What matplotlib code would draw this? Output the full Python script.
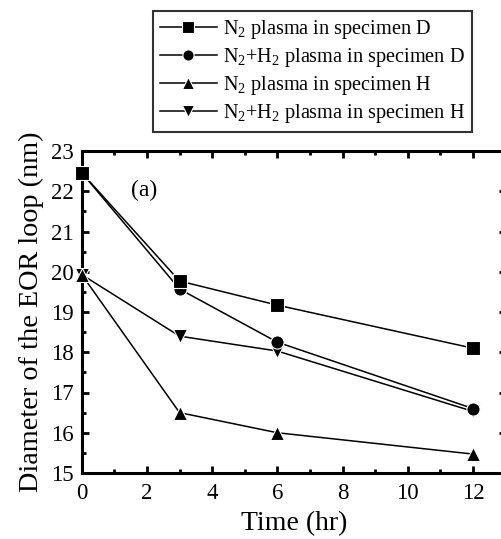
import numpy as np
import matplotlib
matplotlib.use("Agg")
import matplotlib.pyplot as plt
from matplotlib.ticker import MultipleLocator

plt.rcParams['font.family'] = ['Liberation Serif', 'DejaVu Serif']
plt.rcParams['mathtext.fontset'] = 'custom'
plt.rcParams['mathtext.rm'] = 'Liberation Serif'
plt.rcParams['mathtext.it'] = 'Liberation Serif'

# data
time_hr = [0, 3, 6, 12]
n2_d = [22.46, 19.77, 19.17, 18.10]
n2h2_d = [22.46, 19.57, 18.25, 16.60]
n2_h = [19.93, 16.50, 16.00, 15.47]
n2h2_h = [19.93, 18.40, 18.03, 16.53]

labels = [
    r"N$_2$ plasma in specimen D",
    r"N$_2$+H$_2$ plasma in specimen D",
    r"N$_2$ plasma in specimen H",
    r"N$_2$+H$_2$ plasma in specimen H",
]
markers = ["s", "o", "^", "v"]

fig = plt.figure(figsize=(5.01, 5.39), dpi=100)
W, H = 501, 539
ax = fig.add_axes([81.7 / W, (H - 473) / H, 424 / W, 322 / H])

handles = []
series = [n2_d, n2h2_d, n2_h, n2h2_h]
# draw in reverse so the D series sit on top where points overlap
for i in [3, 2, 1, 0]:
    h, = ax.plot(time_hr, series[i], color="black", lw=1.1, marker=markers[i], markersize=9.5,
                 markerfacecolor="black", markeredgecolor="white", markeredgewidth=0.8,
                 label=labels[i], clip_on=False, zorder=3)
    handles.append(h)
handles = handles[::-1]

ax.set_xlim(0, 13)
ax.set_ylim(15, 23)
ax.xaxis.set_major_locator(MultipleLocator(2))
ax.xaxis.set_minor_locator(MultipleLocator(1))
ax.yaxis.set_major_locator(MultipleLocator(1))
ax.yaxis.set_minor_locator(MultipleLocator(0.5))
ax.tick_params(which="both", direction="in", top=True, right=True, width=2, labelsize=16.5)
ax.tick_params(axis="x", which="major", pad=7)
ax.tick_params(axis="y", which="major", pad=6)
ax.tick_params(which="major", length=5)
ax.tick_params(which="minor", length=3)
for s in ax.spines.values():
    s.set_linewidth(2.2)

ax.set_xlabel("Time (hr)", fontsize=20, labelpad=5)
ax.set_ylabel("Diameter of the EOR loop (nm)", fontsize=20.3, labelpad=5)
ax.text(1.92, 22.03, "(a)", fontsize=17, ha="center", va="center")

leg = fig.legend(handles=handles, loc="upper left", bbox_to_anchor=(152.7 / W, 1 - 11 / H),
                 borderaxespad=0, fontsize=14.6, frameon=True, fancybox=False, edgecolor="black",
                 handlelength=2.8, handletextpad=0.3, labelspacing=0.24, markerscale=0.85,
                 borderpad=0.35)
leg.get_frame().set_linewidth(1.5)

fig.savefig("out.png", dpi=100)
